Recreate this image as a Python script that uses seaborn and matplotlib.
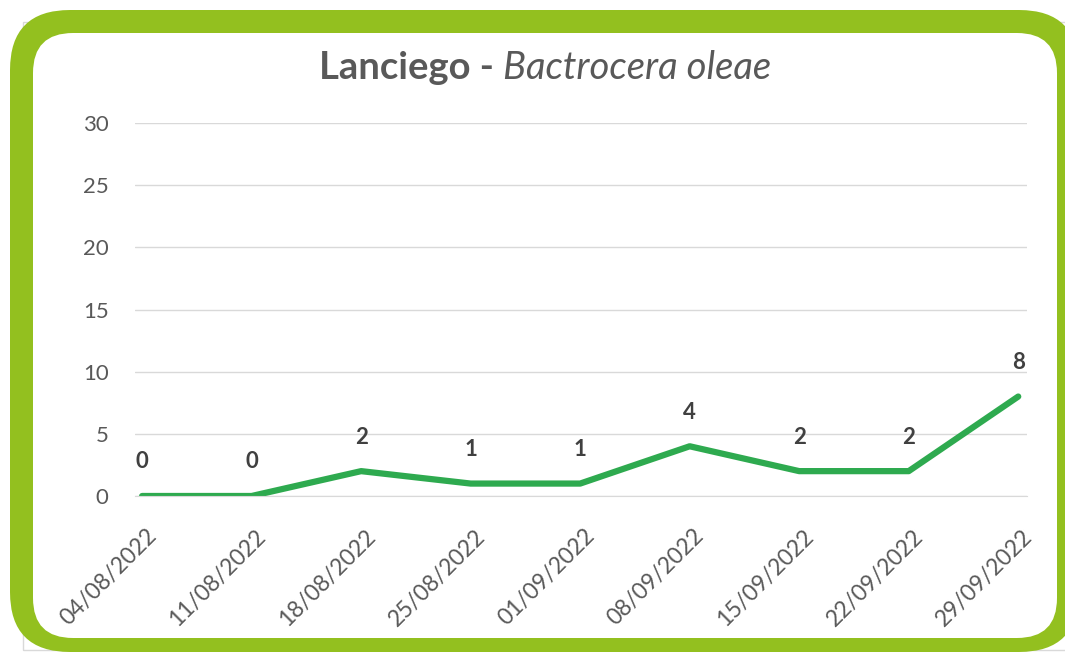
import matplotlib
matplotlib.use("Agg")
import matplotlib.pyplot as plt
import matplotlib.transforms as mtransforms
import seaborn as sns
import pandas as pd
from matplotlib.patches import FancyBboxPatch, Rectangle

# fechas de muestreo y capturas
dates = ["04/08/2022", "11/08/2022", "18/08/2022", "25/08/2022", "01/09/2022",
         "08/09/2022", "15/09/2022", "22/09/2022", "29/09/2022"]
captures = [0, 0, 2, 1, 1, 4, 2, 2, 8]
y_ticks = [0, 5, 10, 15, 20, 25, 30]

line_color = "#2EAA4F"
frame_color = "#93C01F"
text_color = "#595959"


def main():
    sns.set_style("white")
    plt.rcParams["font.family"] = ["Lato", "DejaVu Sans"]

    df = pd.DataFrame({"pos": range(len(dates)), "capturas": captures})

    fig = plt.figure(figsize=(10.65, 6.54), dpi=100)
    W, H = 1065, 654
    px = mtransforms.IdentityTransform()

    # faint outer chart box, green rounded frame, white inside
    fig.patches.append(Rectangle((23, 4), 1060, 628, transform=px, fill=False,
                                 edgecolor="#D9D9D9", linewidth=1, zorder=0))
    fig.patches.append(FancyBboxPatch((10, 2), 1069, 642,
                                      boxstyle="round,pad=0,rounding_size=60",
                                      transform=px, facecolor=frame_color,
                                      edgecolor="none", zorder=1))
    fig.patches.append(FancyBboxPatch((33, 16), 1024, 605,
                                      boxstyle="round,pad=0,rounding_size=40",
                                      transform=px, facecolor="white",
                                      edgecolor="none", zorder=1))

    ax = fig.add_axes([135 / W, 1 - 496 / H, (1027 - 135) / W, (496 - 123) / H])
    ax.set_facecolor("none")
    ax.set_zorder(2)

    sns.lineplot(data=df, x="pos", y="capturas", ax=ax, color=line_color,
                 linewidth=4.5, solid_capstyle="round", solid_joinstyle="round")

    for x, y in zip(df["pos"], df["capturas"]):
        ax.annotate(str(y), (x, y), xytext=(0, 17), textcoords="offset points",
                    ha="center", va="bottom", fontsize=16, fontweight="bold",
                    color="#404040")

    ax.set_xlim(-0.065, len(dates) - 1 + 0.08)
    ax.set_ylim(0, 30)
    ax.set_yticks(y_ticks)
    ax.set_xticks(range(len(dates)))
    ax.set_xticklabels(dates, rotation=45, ha="right", va="center",
                       rotation_mode="anchor")
    ax.tick_params(axis="y", length=0, pad=19, labelsize=16, labelcolor=text_color)
    ax.tick_params(axis="x", length=6, width=1, color="#D9D9D9", pad=20.5,
                   labelsize=16.5, labelcolor=text_color, direction="out")
    shift = mtransforms.ScaledTranslation(11 / 100, 0, fig.dpi_scale_trans)
    for lab in ax.get_xticklabels():
        lab.set_transform(lab.get_transform() + shift)
    ax.set_xlabel("")
    ax.set_ylabel("")
    ax.grid(axis="y", color="#D9D9D9", linewidth=1)
    for side in ["top", "right", "left"]:
        ax.spines[side].set_visible(False)
    ax.spines["bottom"].set_color("#D9D9D9")

    # title: bold part + italic part, centred together
    t1 = fig.text(0, 1 - 68 / H, "Lanciego - ", fontsize=27.5, fontweight="bold",
                  color=text_color, va="center")
    t2 = fig.text(0, 1 - 68 / H, "Bactrocera oleae", fontsize=27.5, style="italic",
                  color=text_color, va="center")
    fig.canvas.draw()
    r = fig.canvas.get_renderer()
    w1 = t1.get_window_extent(r).width
    w2 = t2.get_window_extent(r).width
    start = 545 - (w1 + w2) / 2
    t1.set_x(start / W)
    t2.set_x((start + w1) / W)

    fig.savefig("out.png", dpi=100)


if __name__ == "__main__":
    main()
